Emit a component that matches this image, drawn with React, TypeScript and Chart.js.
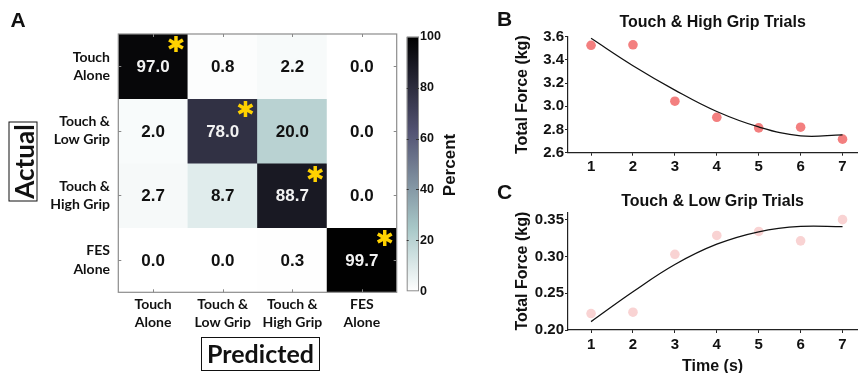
import React, { useEffect, useRef } from "react";
import { Chart, registerables } from "chart.js";

Chart.register(...registerables);
Chart.defaults.font.family = '"Liberation Sans", Arial, sans-serif';

// ---------- Panel A data ----------
const classLabels = [
  ["Touch", "Alone"],
  ["Touch &", "Low Grip"],
  ["Touch &", "High Grip"],
  ["FES", "Alone"],
];
const rowTouchAlone = [97.0, 0.8, 2.2, 0.0];
const rowLowGrip = [2.0, 78.0, 20.0, 0.0];
const rowHighGrip = [2.7, 8.7, 88.7, 0.0];
const rowFesAlone = [0.0, 0.0, 0.3, 99.7];
const colorbarTicks = [0, 20, 40, 60, 80, 100];

// ---------- Panels B & C data ----------
const timeTicks = [1, 2, 3, 4, 5, 6, 7];
const highGripForce = [3.526, 3.53, 3.044, 2.905, 2.814, 2.82, 2.717];
const highGripFit = [3.586, 3.35, 3.14, 2.955, 2.822, 2.745, 2.754];
const highGripTicks = [2.6, 2.8, 3.0, 3.2, 3.4, 3.6];
const lowGripForce = [0.2224, 0.2242, 0.3029, 0.3285, 0.334, 0.3212, 0.35];
const lowGripFit = [0.2114, 0.252, 0.289, 0.3166, 0.3335, 0.3408, 0.3404];
const lowGripTicks = [0.2, 0.25, 0.3, 0.35];

const ARIAL = '"Liberation Sans", Arial, sans-serif';
const CALIBRI = 'Lato, "Open Sans", sans-serif';

// reversed MATLAB "bone" colormap
function boneRev(p: number): string {
  const t = 1 - p / 100;
  const c = (v: number) => Math.max(0, Math.min(1, v));
  const hr = c(t / 0.375);
  const hg = c((t - 0.375) / 0.375);
  const hb = c((t - 0.75) / 0.25);
  const r = (7 * t + hb) / 8;
  const g = (7 * t + hg) / 8;
  const b = (7 * t + hr) / 8;
  return `rgb(${Math.round(r * 255)},${Math.round(g * 255)},${Math.round(b * 255)})`;
}

function makeHeatmap(canvas: HTMLCanvasElement) {
  const rows = [rowTouchAlone, rowLowGrip, rowHighGrip, rowFesAlone];
  const cellPlugin = {
    id: "cellPlugin",
    afterDatasetsDraw(chart: any) {
      const { ctx, chartArea, scales } = chart;
      const { left, right, top, bottom } = chartArea;
      const xs = scales.x;
      const ys = scales.y;
      const cw = (right - left) / 4;
      ctx.save();
      ctx.textAlign = "center";
      ctx.textBaseline = "middle";
      ctx.font = `bold 17px ${ARIAL}`;
      rows.forEach((row, i) => {
        row.forEach((v, j) => {
          const cx = xs.getPixelForValue(j);
          const cy = ys.getPixelForValue(3.5 - i);
          ctx.fillStyle = v > 50 ? "#f2f2f2" : "#111";
          ctx.fillText(v.toFixed(1), cx, cy + 1);
        });
      });
      // significance stars on the diagonal
      ctx.fillStyle = "#ffd200";
      ctx.font = `bold 22px "DejaVu Sans", sans-serif`;
      for (let i = 0; i < 4; i++) {
        const sx = xs.getPixelForValue(i) + cw / 2 - 12;
        const sy = ys.getPixelForValue(4 - i) + 12.7;
        ctx.fillText("\u2731", sx, sy);
      }
      // border
      ctx.strokeStyle = "#8c8c8c";
      ctx.lineWidth = 1.2;
      ctx.strokeRect(left, top, right - left, bottom - top);
      // inward ticks
      ctx.strokeStyle = "#888";
      ctx.lineWidth = 1;
      ctx.beginPath();
      for (let j = 0; j < 4; j++) {
        const px = Math.round(xs.getPixelForValue(j)) + 0.5;
        ctx.moveTo(px, bottom); ctx.lineTo(px, bottom - 3);
        ctx.moveTo(px, top); ctx.lineTo(px, top + 3);
      }
      for (let i = 0; i < 4; i++) {
        const py = Math.round(ys.getPixelForValue(i + 0.5)) + 0.5;
        ctx.moveTo(left, py); ctx.lineTo(left + 3, py);
        ctx.moveTo(right, py); ctx.lineTo(right - 3, py);
      }
      ctx.stroke();
      ctx.restore();
    },
  };
  return new Chart(canvas, {
    type: "bar",
    data: {
      labels: classLabels as any,
      datasets: rows.map((row, i) => ({
        label: classLabels[i].join(" "),
        data: row.map(() => [3 - i, 4 - i]) as any,
        backgroundColor: row.map((v) => boneRev(v)),
        borderWidth: 0,
        barPercentage: 1,
        categoryPercentage: 1,
        grouped: false,
      })),
    },
    options: {
      animation: false,
      responsive: false,
      devicePixelRatio: 1,
      layout: { padding: { top: 34, right: 3.3, left: 0, bottom: 0 } },
      plugins: { legend: { display: false }, tooltip: { enabled: false } },
      scales: {
        x: {
          type: "category",
          offset: true,
          grid: { display: false, drawTicks: false },
          border: { display: false },
          ticks: {
            font: { family: CALIBRI, weight: "bold", size: 14, lineHeight: 1.3 },
            color: "#111",
            padding: 2.9,
            maxRotation: 0,
            autoSkip: false,
          },
          afterFit: (s: any) => { s.height = 47.7; },
        },
        y: {
          type: "linear",
          min: 0,
          max: 4,
          grid: { display: false, drawTicks: false },
          border: { display: false },
          afterBuildTicks: (s: any) => {
            s.ticks = [0.5, 1.5, 2.5, 3.5].map((v) => ({ value: v }));
          },
          ticks: {
            font: { family: CALIBRI, weight: "bold", size: 14, lineHeight: 1.3 },
            color: "#111",
            padding: 8.3,
            callback: (v: any) => classLabels[3 - Math.floor(Number(v))],
          },
          afterFit: (s: any) => { s.width = 118.3; },
        },
      },
    } as any,
    plugins: [cellPlugin],
  });
}

function makeColorbar(canvas: HTMLCanvasElement) {
  const barPlugin = {
    id: "barPlugin",
    afterDatasetsDraw(chart: any) {
      const { ctx, chartArea, scales } = chart;
      const { left, right, top, bottom } = chartArea;
      ctx.save();
      ctx.strokeStyle = "#8c8c8c";
      ctx.lineWidth = 1;
      ctx.strokeRect(left + 0.5, top + 0.5, right - left - 1, bottom - top - 1);
      ctx.strokeStyle = "#333";
      ctx.beginPath();
      colorbarTicks.forEach((t) => {
        if (t === 0 || t === 100) return;
        const py = Math.round(scales.y.getPixelForValue(t)) + 0.5;
        ctx.moveTo(right, py); ctx.lineTo(right - 3, py);
        ctx.moveTo(left, py); ctx.lineTo(left + 2, py);
      });
      ctx.stroke();
      ctx.translate(50, 165);
      ctx.rotate(-Math.PI / 2);
      ctx.fillStyle = "#111";
      ctx.font = `bold 17px ${ARIAL}`;
      ctx.textAlign = "center";
      ctx.textBaseline = "middle";
      ctx.fillText("Percent", 0, 0);
      ctx.restore();
    },
  };
  return new Chart(canvas, {
    type: "bar",
    data: {
      labels: ["Percent"],
      datasets: [
        {
          data: [[0, 100]] as any,
          borderWidth: 0,
          barPercentage: 1,
          categoryPercentage: 1,
          backgroundColor: (c: any) => {
            const chart = c.chart;
            if (!chart.chartArea) return "#999";
            const y = chart.scales.y;
            const g = chart.ctx.createLinearGradient(0, y.getPixelForValue(0), 0, y.getPixelForValue(100));
            for (let k = 0; k <= 40; k++) g.addColorStop(k / 40, boneRev(k * 2.5));
            return g;
          },
        },
      ],
    },
    options: {
      animation: false,
      responsive: false,
      devicePixelRatio: 1,
      layout: { padding: { left: 6.7, top: 36.7, bottom: 81.7, right: 0 } },
      plugins: { legend: { display: false }, tooltip: { enabled: false } },
      scales: {
        x: { display: false },
        y: {
          position: "right",
          min: 0,
          max: 100,
          grid: { display: false, drawTicks: false },
          border: { display: false },
          afterBuildTicks: (s: any) => {
            s.ticks = colorbarTicks.map((v) => ({ value: v }));
          },
          ticks: { font: { family: ARIAL, weight: "bold", size: 12.5 }, color: "#111", padding: 1 },
          afterFit: (s: any) => { s.width = 46; },
        },
      },
    } as any,
    plugins: [barPlugin],
  });
}

function makeForce(
  canvas: HTMLCanvasElement,
  title: string,
  force: number[],
  fit: number[],
  yTicks: number[],
  yMin: number,
  yMax: number,
  decimals: number,
  dotColor: string,
  titlePad: { top: number; bottom: number },
  xHeight: number,
  xTickPad: number,
  showXTitle: boolean
) {
  const axisGrid = { drawOnChartArea: false, drawTicks: true, tickLength: 3, color: "#222", lineWidth: 1 };
  const axisBorder = { display: true, color: "#222", width: 1.2 };
  return new Chart(canvas, {
    type: "scatter",
    data: {
      datasets: [
        {
          type: "scatter",
          label: "measured",
          data: timeTicks.map((t, i) => ({ x: t, y: force[i] })),
          backgroundColor: dotColor,
          borderWidth: 0,
          pointRadius: 4.8,
          order: 1,
        },
        {
          type: "line",
          label: "fit",
          data: timeTicks.map((t, i) => ({ x: t, y: fit[i] })),
          borderColor: "#111",
          borderWidth: 1.3,
          pointRadius: 0,
          tension: 0.4,
          fill: false,
          order: 0,
        } as any,
      ],
    },
    options: {
      animation: false,
      responsive: false,
      devicePixelRatio: 1,
      layout: { padding: 0 },
      plugins: {
        legend: { display: false },
        tooltip: { enabled: false },
        title: {
          display: true,
          text: title,
          fullSize: false,
          color: "#111",
          font: { family: ARIAL, weight: "bold", size: 16 },
          padding: titlePad,
        },
      },
      scales: {
        x: {
          type: "linear",
          min: 0.45,
          max: 7.35,
          afterBuildTicks: (s: any) => {
            s.ticks = timeTicks.map((v) => ({ value: v }));
          },
          grid: axisGrid,
          border: axisBorder,
          ticks: { font: { weight: "bold", size: 15 }, color: "#111", padding: xTickPad },
          title: {
            display: showXTitle,
            text: "Time (s)",
            color: "#111",
            font: { weight: "bold", size: 16, lineHeight: 0.8 },
            padding: { top: 0, bottom: 0 },
          },
          afterFit: (s: any) => { s.height = xHeight; },
        },
        y: {
          type: "linear",
          min: yMin,
          max: yMax,
          afterBuildTicks: (s: any) => {
            s.ticks = yTicks.map((v) => ({ value: v }));
          },
          grid: axisGrid,
          border: axisBorder,
          ticks: {
            font: { weight: "bold", size: 15 },
            color: "#111",
            padding: 1,
            callback: (v: any) => Number(v).toFixed(decimals),
          },
          title: {
            display: true,
            text: "Total Force (kg)",
            color: "#111",
            font: { weight: "bold", size: 16 },
            padding: { top: 13.4, bottom: 0 },
          },
          afterFit: (s: any) => { s.width = 68; },
        },
      },
    } as any,
  });
}

const labelStyle = (left: number, top: number): React.CSSProperties => ({
  position: "absolute",
  left,
  top,
  font: `bold 21px ${ARIAL}`,
  lineHeight: "21px",
  color: "#111",
});

export default function App() {
  const heatRef = useRef<HTMLCanvasElement>(null);
  const barRef = useRef<HTMLCanvasElement>(null);
  const bRef = useRef<HTMLCanvasElement>(null);
  const cRef = useRef<HTMLCanvasElement>(null);

  useEffect(() => {
    const charts: Chart[] = [];
    if (heatRef.current) charts.push(makeHeatmap(heatRef.current));
    if (barRef.current) charts.push(makeColorbar(barRef.current));
    if (bRef.current)
      charts.push(
        makeForce(bRef.current, "Touch & High Grip Trials", highGripForce, highGripFit, highGripTicks, 2.6, 3.6, 1,
          "#f37f7f", { top: 12.5, bottom: 5 }, 32.3, 2, false)
      );
    if (cRef.current)
      charts.push(
        makeForce(cRef.current, "Touch & Low Grip Trials", lowGripForce, lowGripFit, lowGripTicks, 0.2, 0.36, 2,
          "#f9d3d3", { top: 7.1, bottom: 1 }, 43, 3, true)
      );
    return () => charts.forEach((c) => c.destroy());
  }, []);

  return (
    <div style={{ position: "absolute", left: 0, top: 0, width: 862, height: 373, overflow: "hidden", background: "#fff" }}>
      <canvas ref={heatRef} width={400} height={340} style={{ position: "absolute", left: 0, top: 0 }} />
      <canvas ref={barRef} width={65} height={373} style={{ position: "absolute", left: 400, top: 0 }} />
      <canvas ref={bRef} width={362} height={185} style={{ position: "absolute", left: 500, top: 0 }} />
      <canvas ref={cRef} width={362} height={188} style={{ position: "absolute", left: 500, top: 185 }} />
      <div style={labelStyle(10.4, 8.5)}>A</div>
      <div style={labelStyle(497, 8)}>B</div>
      <div style={labelStyle(497, 181)}>C</div>
      <div
        style={{
          position: "absolute",
          left: 22.5 - 40,
          top: 161.2 - 14.5,
          width: 80,
          height: 29,
          boxSizing: "border-box",
          border: "1.5px solid #111",
          transform: "rotate(-90deg)",
          display: "flex",
          alignItems: "center",
          justifyContent: "center",
          font: `bold 26px ${CALIBRI}`,
          lineHeight: "26px",
          color: "#111",
        }}
      >
        Actual
      </div>
      <div
        style={{
          position: "absolute",
          left: 201,
          top: 336.7,
          width: 119,
          height: 34,
          boxSizing: "border-box",
          border: "1.5px solid #111",
          display: "flex",
          alignItems: "center",
          justifyContent: "center",
          font: `bold 25px ${CALIBRI}`,
          lineHeight: "25px",
          color: "#111",
        }}
      >
        Predicted
      </div>
    </div>
  );
}
